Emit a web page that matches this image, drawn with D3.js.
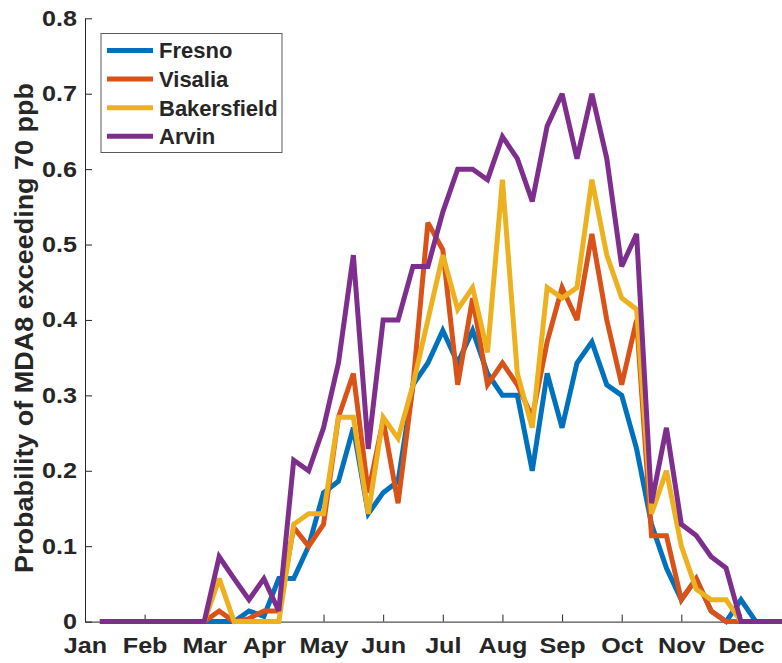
<!DOCTYPE html>
<html>
<head>
<meta charset="utf-8">
<script src="https://cdn.jsdelivr.net/npm/d3@7"></script>
<style>
  html, body { margin: 0; padding: 0; background: #fff; }
  svg { display: block; }
  text { font-family: "Liberation Sans", Arial, Helvetica, sans-serif; font-weight: bold; fill: #262626; }
</style>
</head>
<body>
<svg id="chart" width="782" height="663"></svg>
<script>
// Month labels (one tick every four weekly steps)
const months = ["Jan", "Feb", "Mar", "Apr", "May", "Jun", "Jul", "Aug", "Sep", "Oct", "Nov", "Dec"];
// Week positions along the year (4 per month)
const weeks = [1, 2, 3, 4, 5, 6, 7, 8, 9, 10, 11, 12, 13, 14, 15, 16, 17, 18, 19, 20, 21, 22, 23, 24,
               25, 26, 27, 28, 29, 30, 31, 32, 33, 34, 35, 36, 37, 38, 39, 40, 41, 42, 43, 44, 45, 46, 47, 48];

// Probability of MDA8 ozone exceeding 70 ppb, by week
const fresno = [0, 0, 0, 0, 0, 0, 0, 0, 0, 0, 0.014, 0.007,
                0.057, 0.057, 0.1, 0.171, 0.186, 0.257, 0.143, 0.171, 0.186, 0.314, 0.343, 0.386,
                0.343, 0.386, 0.329, 0.3, 0.3, 0.2, 0.329, 0.257, 0.343, 0.371, 0.314, 0.3,
                0.229, 0.129, 0.071, 0.029, 0.057, 0.014, 0, 0.029, 0, 0, 0, 0];
const visalia = [0, 0, 0, 0, 0, 0, 0, 0, 0.014, 0, 0.004, 0.014,
                 0.014, 0.125, 0.1, 0.129, 0.271, 0.329, 0.171, 0.267, 0.157, 0.314, 0.529, 0.493,
                 0.314, 0.429, 0.314, 0.343, 0.314, 0.271, 0.371, 0.443, 0.4, 0.514, 0.4, 0.314,
                 0.4, 0.114, 0.114, 0.029, 0.057, 0.014, 0, 0, 0, 0, 0, 0];
const bakersfield = [0, 0, 0, 0, 0, 0, 0, 0, 0.057, 0, 0, 0,
                     0, 0.129, 0.143, 0.143, 0.271, 0.271, 0.143, 0.271, 0.243, 0.314, 0.4, 0.486,
                     0.414, 0.443, 0.357, 0.586, 0.329, 0.257, 0.443, 0.429, 0.443, 0.586, 0.486, 0.429,
                     0.414, 0.143, 0.2, 0.1, 0.043, 0.029, 0.029, 0, 0, 0, 0, 0];
const arvin = [0, 0, 0, 0, 0, 0, 0, 0, 0.086, 0.057, 0.029, 0.057,
               0.014, 0.214, 0.2, 0.257, 0.343, 0.486, 0.229, 0.4, 0.4, 0.471, 0.471, 0.543,
               0.6, 0.6, 0.586, 0.643, 0.614, 0.557, 0.657, 0.7, 0.614, 0.7, 0.614, 0.471,
               0.514, 0.157, 0.257, 0.129, 0.114, 0.086, 0.071, 0, 0, 0, 0, 0];

const seriesNames = ["Fresno", "Visalia", "Bakersfield", "Arvin"];
const seriesColors = ["#0072BD", "#D95319", "#EDB120", "#7E2F8E"];
const seriesValues = [fresno, visalia, bakersfield, arvin];
const yTicks = [0, 0.1, 0.2, 0.3, 0.4, 0.5, 0.6, 0.7, 0.8];

const svg = d3.select("#chart");
const plotLeft = 85, plotRight = 800.6, plotTop = 18.3, plotBottom = 621.6;

const x = d3.scaleLinear().domain([0, 48]).range([plotLeft, plotRight]);
const y = d3.scaleLinear().domain([0, 0.8]).range([plotBottom, plotTop]);

const axisColor = "#262626";
const tickFont = 21.5;
const tickStretch = 1.17;   // wide tick-label lettering

// x axis: month ticks pointing into the plot
const xAxis = d3.axisBottom(x)
  .tickValues(months.map((m, i) => i * 4))
  .tickFormat((d) => months[d / 4])
  .tickSizeInner(-7)
  .tickSizeOuter(0)
  .tickPadding(16);
const gx = svg.append("g").attr("transform", `translate(0,${plotBottom})`).call(xAxis);
gx.select(".domain").attr("stroke", axisColor).attr("stroke-width", 1);
gx.selectAll(".tick line").attr("stroke", axisColor);
gx.selectAll(".tick text").attr("font-size", tickFont).attr("fill", axisColor)
  .attr("transform", `scale(${tickStretch},1)`)
  .style("font-family", "'Liberation Sans', Arial, sans-serif").style("font-weight", "bold");

// y axis
const yPad = 8;
const yAxis = d3.axisLeft(y)
  .tickValues(yTicks)
  .tickFormat((d) => d === 0 ? "0" : d3.format(".1f")(d))
  .tickSizeInner(-7)
  .tickSizeOuter(0)
  .tickPadding(yPad);
const gy = svg.append("g").attr("transform", `translate(${plotLeft},0)`).call(yAxis);
gy.select(".domain").attr("stroke", axisColor).attr("stroke-width", 1);
gy.selectAll(".tick line").attr("stroke", axisColor);
gy.selectAll(".tick text").attr("font-size", tickFont).attr("fill", axisColor)
  .attr("x", -yPad / tickStretch)
  .attr("transform", `scale(${tickStretch},1)`)
  .style("font-family", "'Liberation Sans', Arial, sans-serif").style("font-weight", "bold");

// y axis title
svg.append("text")
  .attr("transform", `translate(33,328) rotate(-90)`)
  .attr("text-anchor", "middle")
  .attr("font-size", 26)
  .attr("textLength", 490)
  .attr("lengthAdjust", "spacingAndGlyphs")
  .text("Probability of MDA8 exceeding 70 ppb");

// Series lines
const line = d3.line()
  .x((d, i) => x(weeks[i]))
  .y((d) => y(d));

seriesValues.forEach((vals, s) => {
  svg.append("path")
    .datum(vals)
    .attr("fill", "none")
    .attr("stroke", seriesColors[s])
    .attr("stroke-width", 5)
    .attr("stroke-linejoin", "miter")
    .attr("stroke-miterlimit", 3)
    .attr("d", line);
});

// Legend
const legend = svg.append("g").attr("transform", "translate(101,33.5)");
legend.append("rect")
  .attr("width", 181).attr("height", 119)
  .attr("fill", "#fff").attr("stroke", "#5a5a5a").attr("stroke-width", 1);
seriesNames.forEach((name, i) => {
  const cy = 17 + i * 28.6;
  legend.append("line")
    .attr("x1", 6).attr("x2", 52).attr("y1", cy).attr("y2", cy)
    .attr("stroke", seriesColors[i]).attr("stroke-width", 5);
  legend.append("text")
    .attr("x", 58).attr("y", cy + 7.8)
    .attr("font-size", 22)
    .attr("fill", "#000")
    .text(name);
});
</script>
</body>
</html>
